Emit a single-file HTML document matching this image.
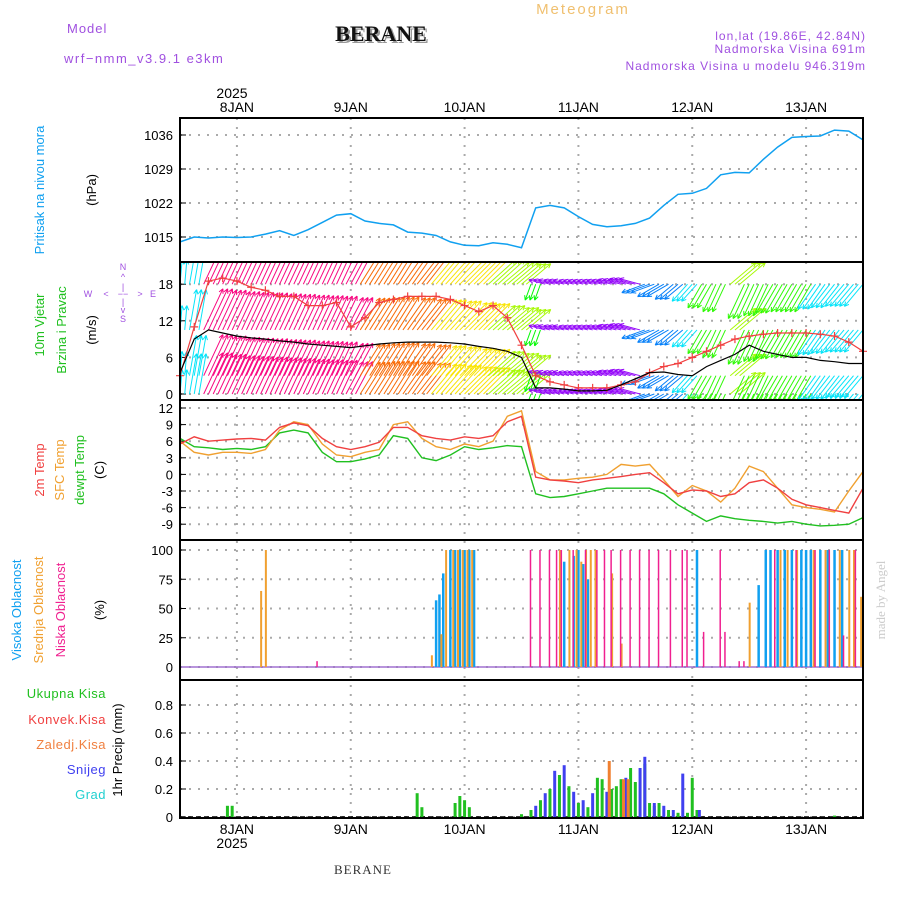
<!DOCTYPE html>
<html><head><meta charset="utf-8"><style>
body{margin:0;background:#fff}
svg{display:block;font-family:"Liberation Sans",sans-serif}
</style></head><body>
<svg id="c" width="900" height="900" viewBox="0 0 900 900">
<defs>
<clipPath id="cw"><rect x="181" y="263" width="681" height="136"/></clipPath>
<clipPath id="cp"><rect x="181" y="119" width="681" height="142"/></clipPath>
</defs>
<text x="583" y="14" font-size="15" fill="#f0c070" text-anchor="middle" letter-spacing="2">Meteogram</text>
<text x="383" y="43" font-size="22" font-weight="bold" font-family="Liberation Serif,serif" text-anchor="middle" fill="#999">BERANE</text>
<text x="381" y="41" font-size="22" font-weight="bold" font-family="Liberation Serif,serif" text-anchor="middle" fill="#111">BERANE</text>
<text x="67" y="33" font-size="13" fill="#a050e0" letter-spacing="1">Model</text>
<text x="64" y="63" font-size="13" fill="#a050e0" letter-spacing="1.5">wrf−nmm_v3.9.1  e3km</text>
<text x="866" y="40" font-size="12" fill="#a050e0" text-anchor="end" letter-spacing="1">lon,lat (19.86E, 42.84N)</text>
<text x="866" y="53" font-size="12" fill="#a050e0" text-anchor="end" letter-spacing="1">Nadmorska Visina 691m</text>
<text x="866" y="70" font-size="12" fill="#a050e0" text-anchor="end" letter-spacing="1">Nadmorska Visina u modelu 946.319m</text>
<text x="232" y="98" font-size="14" text-anchor="middle">2025</text>
<text x="232" y="848" font-size="14" text-anchor="middle">2025</text>
<text x="363" y="874" font-size="13" font-family="Liberation Serif,serif" text-anchor="middle" fill="#333" letter-spacing="1">BERANE</text>
<text transform="translate(885,600) rotate(-90)" font-size="13" font-family="Liberation Serif,serif" fill="#ccc" text-anchor="middle">made by Angel</text>

<g font-size="13" text-anchor="middle">
<text transform="translate(44,190) rotate(-90)" fill="#10a0f0">Pritisak na nivou mora</text>
<text transform="translate(96,190) rotate(-90)">(hPa)</text>
<text transform="translate(44,325) rotate(-90)" fill="#20c020">10m Vjetar</text>
<text transform="translate(66,330) rotate(-90)" fill="#20c020">Brzina i Pravac</text>
<text transform="translate(96,330) rotate(-90)">(m/s)</text>
<text transform="translate(44,470) rotate(-90)" fill="#f04040">2m Temp</text>
<text transform="translate(64,470) rotate(-90)" fill="#f0a030">SFC Temp</text>
<text transform="translate(84,470) rotate(-90)" fill="#20c020">dewpt Temp</text>
<text transform="translate(104,470) rotate(-90)">(C)</text>
<text transform="translate(21,610) rotate(-90)" fill="#10a0f0">Visoka Oblacnost</text>
<text transform="translate(43,610) rotate(-90)" fill="#f0a030">Srednja Oblacnost</text>
<text transform="translate(65,610) rotate(-90)" fill="#f02090">Niska Oblacnost</text>
<text transform="translate(104,610) rotate(-90)">(%)</text>
<text transform="translate(122,750) rotate(-90)">1hr Precip (mm)</text>
</g>
<g font-size="13" text-anchor="end" letter-spacing="0.5">
<text x="106" y="698" fill="#20c020">Ukupna Kisa</text>
<text x="106" y="724" fill="#f04040">Konvek.Kisa</text>
<text x="106" y="749" fill="#f08040">Zaledj.Kisa</text>
<text x="106" y="774" fill="#4040f0">Snijeg</text>
<text x="106" y="799" fill="#20d0d0">Grad</text>
</g>
<g fill="#a050e0" font-size="9" text-anchor="middle">
<text x="123" y="270">N</text><text x="123" y="280">^</text><text x="123" y="290">|</text>
<text x="123" y="297">−−</text><text x="88" y="297">W</text><text x="106" y="297">&lt;</text><text x="140" y="297">&gt;</text><text x="153" y="297">E</text>
<text x="123" y="305">|</text><text x="123" y="313">v</text><text x="123" y="322">S</text>
</g>
<g id="plot"></g>
</svg>
<script>
// ---- data (3-hourly from 7 JAN 12Z) ----
const dayLabels=["8JAN","9JAN","10JAN","11JAN","12JAN","13JAN"];
const pressTicks=[1036,1029,1022,1015];
const windTicks=[18,12,6,0];
const tempTicks=[12,9,6,3,0,-3,-6,-9];
const cloudTicks=[100,75,50,25,0];
const precipTicks=[0.8,0.6,0.4,0.2,0];
const pressure=[1014,1015,1014.8,1015,1014.9,1015,1015.6,1016.3,1015.3,1016.5,1018,1019.5,1019.8,1018.3,1017.8,1017.5,1016,1015.8,1015.3,1014,1013.3,1013.2,1013.8,1013.5,1012.8,1021,1021.5,1021,1019.2,1017.6,1017.1,1017.3,1017.8,1018.9,1021.5,1023.8,1024,1025,1027.8,1028.3,1028.2,1031,1033.5,1035.5,1035.7,1035.8,1037,1036.8,1035];
const windSpeed=[3.5,9,10.5,10,9.5,9.2,9,8.7,8.5,8.2,8,7.8,7.6,7.9,8.2,8.4,8.5,8.5,8.5,8.4,8.2,7.8,7.5,7,6,1,1,0.8,0.5,0.5,0.6,1.5,2.5,3.5,3.6,3.2,3,4.5,5.5,6.5,8,7,6.5,6,6,5.5,5.3,5,5];
const windGust=[3,11,18.5,19,18.5,17.5,17,16,16,14.5,14.5,15,11,12.5,15,15.5,16,16,16,15.5,14.5,13.5,14.5,12.5,8,3,2,1.5,1,1,1,1.5,2,3.5,4.5,5,6,7,8,9,9.5,9.8,10,10,10,9.8,9.5,8.5,7];
const windDir=[5,10,25,25,25,25,25,25,25,25,25,25,28,32,32,32,35,38,40,42,45,45,48,50,50,200,285,285,285,285,285,285,285,250,240,230,222,210,205,50,205,205,210,210,210,215,218,220,220];
const temp2m=[5.5,6.8,6,6.2,6.4,6.5,6.2,8.5,9.3,8.8,6.5,5,4.5,5,5.8,8.5,8.5,7,6.5,6.2,6.8,6.5,7,9.5,10.5,-0.5,-1,-1.2,-1.5,-1,-0.7,-0.4,0,0.3,-1.5,-3.5,-2.8,-3,-4,-3.5,-1.5,-1,-2.5,-4.5,-5.5,-6,-6.5,-7,-2.5];
const tempSfc=[6,4,3.5,4,4,3.8,4.5,8,9.5,9,5.5,3.5,3.2,4,4.5,9,9.5,6.5,5,4.5,5.5,5,6,10.5,11.5,0.5,-1,-1,-0.7,-0.5,0,1.8,1.5,1.8,-1,-4,-2,-3,-5,-2.5,1.5,0.5,-2.5,-5.5,-6,-6.3,-6.8,-3,0.5];
const tempDew=[6.5,5,4.8,4.5,4.7,4.5,5,7.5,8,7.5,4,2.3,2.3,2.8,3.5,7,6.5,3,2.5,3.5,5,4.5,4.8,5.2,5,-3.5,-4.2,-4,-3.5,-3,-2.5,-2.5,-2.5,-2.5,-3.5,-5.5,-7,-8.5,-7.5,-8,-8.3,-8.5,-8.8,-8.5,-9,-9.3,-9.2,-9,-7.8];
// clouds: [hour, percent]
const cloudHigh=[[54,57],[54.7,62],[55.5,80],[57,100],[58,100],[59,100],[60,100],[61,100],[62,100],[81,90],[83,95],[84,100],[85,88],[86,75],[109,100],[122,70],[123.5,100],[124.5,100],[126,100],[127.5,100],[129,100],[131,100],[132,100],[133,100],[135,100],[136.6,100],[138,100],[139.6,100]];
const cloudMid=[[17,65],[18,100],[53,10],[55,28],[56,100],[57.5,100],[58.5,100],[59.5,100],[60.5,100],[61.5,100],[80,100],[82,100],[83.5,100],[84.5,90],[85.5,100],[86.5,100],[87.5,100],[91,80],[93,20],[120,55],[126.5,100],[128,100],[130,100],[133.5,100],[136,100],[139,100],[141,100],[142,100],[143.5,60]];
const cloudLow=[[29,5],[74,100],[76,100],[78,100],[79.5,100],[80.5,100],[83,100],[85.6,100],[88,100],[89.6,100],[91,100],[93,100],[95,100],[97,100],[99,100],[101,100],[103.5,100],[106,100],[107,100],[110.5,30],[114,100],[115,30],[118,5],[119,5],[125.5,100],[130,100],[134,100],[137,100],[140,27],[142.5,100]];
// precip: [hour, mm]
const precipTotal=[[10,0.08],[11,0.08],[50,0.17],[51,0.07],[58,0.1],[59,0.15],[60,0.12],[61,0.07],[72,0.02],[74,0.05],[76,0.12],[78,0.2],[80,0.3],[82,0.22],[84,0.1],[86,0.07],[88,0.28],[89,0.27],[91,0.2],[92,0.22],[93,0.27],[95,0.35],[96,0.25],[98,0.38],[99,0.1],[100,0.08],[101,0.1],[103,0.05],[105,0.03],[107,0.03],[108,0.28],[109,0.05],[138,0.01]];
const precipSnow=[[75,0.08],[77,0.17],[79,0.33],[81,0.37],[83,0.18],[85,0.12],[87,0.17],[90,0.18],[94,0.28],[97,0.35],[98,0.43],[100,0.1],[102,0.08],[104,0.05],[106,0.31],[109.5,0.05]];
const precipFrozen=[[90.5,0.4],[93.5,0.27],[94.5,0.27]];

// ---- scales ----
const X0=180,X1=863,NH=144;
const xH=h=>X0+h*(X1-X0)/NH;
const yP=p=>135+(1036-p)*34/7;
const yW=v=>394-v*6.1;
const yT=t=>408+(12-t)*16.6/3;
const yC=c=>667-c*1.17;
const yR=r=>817-r*140;
const NS="http://www.w3.org/2000/svg";
const plot=document.getElementById('plot');
function mk(tag,attrs,parent){const e=document.createElementNS(NS,tag);for(const k in attrs)e.setAttribute(k,attrs[k]);(parent||plot).appendChild(e);return e;}
const panels=[[118,262,'pressure-panel'],[262,400,'wind-panel'],[400,540,'temperature-panel'],[540,680,'cloud-panel'],[680,818,'precip-panel']];
const dayX=dayLabels.map((d,i)=>xH(12+24*i));

// grids
function hgrid(vals,f,name){vals.forEach(v=>{const y=f(v);
 const g=mk('line',{x1:X0,x2:X1,y1:y,y2:y,stroke:'#aaa','stroke-dasharray':'2,7','stroke-width':2});
 
 
 const t=mk('text',{x:173,y:y+5,'font-size':13,'text-anchor':'end'});t.textContent=v;
 
 
 mk('line',{x1:X0,x2:X0+6,y1:y,y2:y,stroke:'#000'});});}
hgrid(pressTicks,yP,'pressure');hgrid(windTicks,yW,'wind');hgrid(tempTicks,yT,'temp');hgrid(cloudTicks,yC,'cloud');hgrid(precipTicks,yR,'precip');
dayX.forEach((x,i)=>{
 const g=mk('line',{x1:x,x2:x,y1:118,y2:818,stroke:'#aaa','stroke-dasharray':'2,7','stroke-width':2});
 
 
 const t=mk('text',{x:x,y:112,'font-size':14,'text-anchor':'middle'});t.textContent=dayLabels[i];
 
 
 const b=mk('text',{x:x,y:834,'font-size':14,'text-anchor':'middle'});b.textContent=dayLabels[i];
 
 
});

function line(arr,f,color,name,w,clip){const d=arr.map((v,i)=>(i?'L':'M')+xH(i*3).toFixed(1)+','+f(v).toFixed(1)).join('');
 const e=mk('path',{d:d,fill:'none',stroke:color,'stroke-width':w||1.3});
 if(clip)e.setAttribute('clip-path',clip);
 
 return e;}

line(pressure,yP,'#10a0f0','pressure-line',1.5,'url(#cp)');

// wind arrows
function hue(d){if(d<20)return 185;if(d<30)return 330;if(d<40)return 25;if(d<47)return 55;if(d<90)return 80;if(d<205)return 120;if(d<215)return 110;if(d<230)return 185;if(d<262)return 210;return 275;}
const wg=mk('g',{'clip-path':'url(#cw)'});


const rows=[0,3,10.5,18];
windDir.forEach((dir,i)=>{
 const sp=windSpeed[i];const L=14+3*sp;const a=dir*Math.PI/180;const col='hsl('+hue(dir)+',95%,50%)';
 for(let k=-1;k<=1;k++){const h=i*3+k;if(h<0||h>NH)continue;
  rows.forEach(r=>{const x=xH(h),y=yW(r);const x2=x+L*Math.sin(a),y2=y-L*Math.cos(a);
   const ar=mk('path',{d:`M${x},${y}L${x2},${y2}M${x2},${y2}l${-5*Math.sin(a-0.45)},${5*Math.cos(a-0.45)}M${x2},${y2}l${-5*Math.sin(a+0.45)},${5*Math.cos(a+0.45)}`,stroke:col,'stroke-width':1,fill:'none'},wg);
   
   });}
});
line(windGust,yW,'#f04040','wind-gust-line',1.2,'url(#cw)');
windGust.forEach((v,i)=>{const x=xH(i*3),y=yW(v);
 const m=mk('path',{d:`M${x-4},${y}h8M${x},${y-4}v8`,stroke:'#f04040','stroke-width':1.2});
 
 });
line(windSpeed,yW,'#000','wind-speed-line',1.2,'url(#cw)');

line(tempDew,yT,'#20c020','dewpoint-line',1.4);
line(tempSfc,yT,'#f0a030','sfc-temp-line',1.4);
line(temp2m,yT,'#f04040','temp-2m-line',1.4);

function bars(arr,f,color,name,w,off){arr.forEach(([h,v])=>{const x=xH(h)+(off||0),y=f(v);
 const r=mk('rect',{x:x-w/2,y:y,width:w,height:Math.max(0,f(0)-y),fill:color});
 
 });}
mk('line',{x1:X0,x2:X1,y1:yC(0),y2:yC(0),stroke:'#a070d0','stroke-width':1.5});
bars(cloudHigh,yC,'#10a0f0','cloud-high-bar',2.5,0);
bars(cloudMid,yC,'#f0a030','cloud-mid-bar',2,0.5);
bars(cloudLow,yC,'#f02090','cloud-low-bar',1.5,-0.5);

mk('line',{x1:X0,x2:X1,y1:yR(0),y2:yR(0),stroke:'#000','stroke-dasharray':'5,3','stroke-width':1.5});
bars(precipTotal,yR,'#20c020','precip-total-bar',3,0);
bars(precipSnow,yR,'#4040f0','precip-snow-bar',3,0);
bars(precipFrozen,yR,'#f08030','precip-frozen-bar',3,0);

panels.forEach(([a,b,n])=>{const r=mk('rect',{x:X0,y:a,width:X1-X0,height:b-a,fill:'none',stroke:'#000','stroke-width':2});
 
 });
</script>
</body></html>
